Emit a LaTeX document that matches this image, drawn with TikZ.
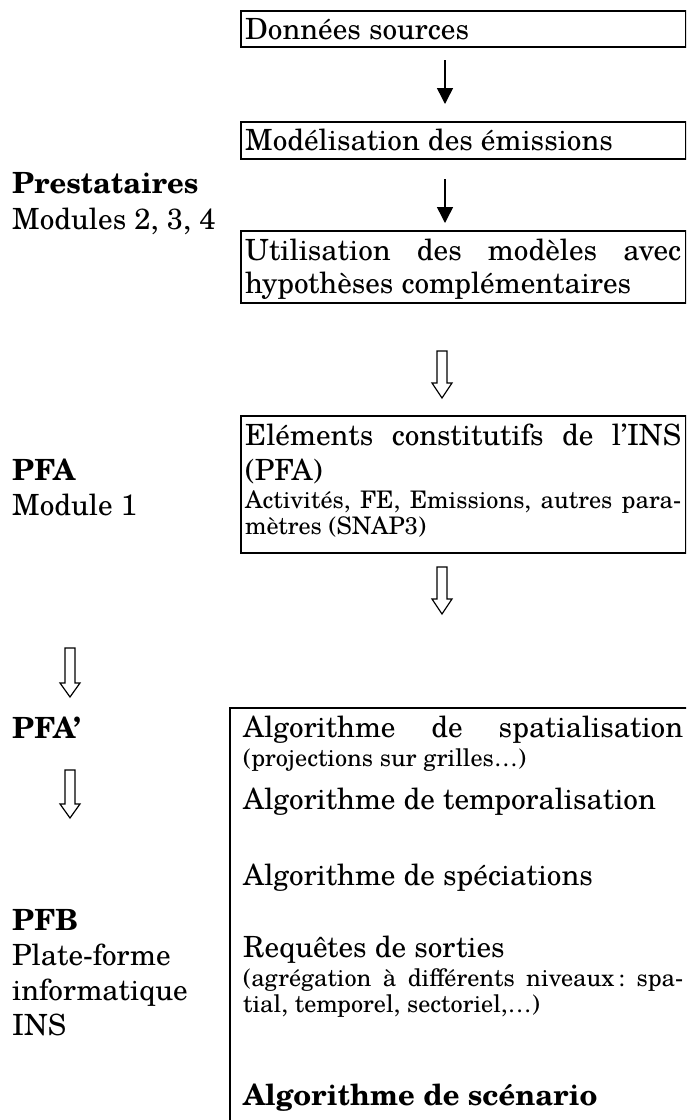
\documentclass[tikz,border=0pt]{standalone}
\usepackage{fontspec}
\setmainfont{TeX Gyre Schola}
\usetikzlibrary{arrows.meta}
\newcommand\hollowarr[4]{%
  \draw[hollow] (#1-5,#2) -- (#1+5,#2) -- (#1+5,#3-#4) -- (#1+10,#3-#4) -- (#1,#3) -- (#1-10,#3-#4) -- (#1-5,#3-#4) -- cycle;}
\begin{document}
\begin{tikzpicture}[x=1pt,y=-1pt,
  box/.style={draw, line width=2pt, inner sep=0pt, anchor=north west},
  txt/.style={inner sep=0pt, anchor=base west, font=\fontsize{29.2}{34}\selectfont},
  btxt/.style={inner sep=0pt, anchor=base west, font=\fontsize{29.2}{34}\selectfont\bfseries},
  smtxt/.style={inner sep=0pt, anchor=base west, font=\fontsize{24.2}{28}\selectfont},
  arr/.style={line width=1.5pt, -{Triangle[width=16pt,length=16pt]}},
  hollow/.style={line width=1.2pt, line join=miter}]
\useasboundingbox (0,0) rectangle (686,1120);
\clip (0,0) rectangle (686,1120);
% top boxes
\node[box, minimum width=445pt, minimum height=36pt] (b1) at (240,10) {};
\node[txt] (t1) at (245,39) {Données sources};
\node[box, minimum width=445pt, minimum height=37pt] (b2) at (240,121) {};
\node[txt] (t2) at (245,150) {Modélisation des émissions};
\node[box, minimum width=445pt, minimum height=72pt] (b3) at (240,230) {};
\node[txt] (t3a) at (245,260) {\hbox to 436pt{Utilisation\hfill des\hfill modèles\hfill avec}};
\node[txt] (t3b) at (245,293) {hypothèses complémentaires};
% solid arrows
\coordinate (a1s) at (445,60); \coordinate (a1e) at (445,104);
\draw[arr] (a1s) -- (a1e);
\coordinate (a2s) at (445,179); \coordinate (a2e) at (445,223);
\draw[arr] (a2s) -- (a2e);
% left labels
\node[btxt] (l1) at (12,193) {Prestataires};
\node[txt] (l2) at (12,229) {Modules 2, 3, 4};
\node[btxt] (l3) at (12,480) {PFA};
\node[txt] (l4) at (12,515) {Module 1};
% hollow arrows
\hollowarr{442}{351}{398}{15}
% box 4
\node[box, minimum width=445pt, minimum height=137pt] (b4) at (240,415) {};
\node[txt] (t4a) at (245,445) {\hbox to 436pt{Eléments\hfill constitutifs\hfill de\hfill l’INS}};
\node[txt] (t4b) at (245,480) {(PFA)};
\node[smtxt] (t4c) at (245,508) {\hbox to 436pt{Activités,\hfill FE,\hfill Emissions,\hfill autres\hfill para-}};
\node[smtxt] (t4d) at (245,534) {mètres (SNAP3)};
\hollowarr{442}{567}{614}{15}
% left arrows and labels
\hollowarr{70}{648}{697}{14}
\node[btxt] (l5) at (12,738) {PFA’};
\hollowarr{70}{770}{818}{14}
\node[btxt] (l6) at (12,930) {PFB};
\node[txt] (l7) at (12,965) {Plate-forme};
\node[txt] (l8) at (12,1000) {informatique};
\node[txt] (l9) at (12,1035) {INS};
% bottom box
\node[box, minimum width=480pt, minimum height=440pt] (b5) at (229,707) {};
\node[txt] (s1) at (243,737) {\hbox to 440pt{Algorithme\hfill de\hfill spatialisation}};
\node[smtxt] (s2) at (243,766) {(projections sur grilles…)};
\node[txt] (s3) at (243,809) {Algorithme de temporalisation};
\node[txt] (s4) at (243,885) {Algorithme de spéciations};
\node[txt] (s5) at (243,957) {Requêtes de sorties};
\node[smtxt] (s6) at (243,986) {\hbox to 440pt{(agrégation\hfill à\hfill différents\hfill niveaux\,:\hfill spa-}};
\node[smtxt] (s7) at (243,1012) {tial, temporel, sectoriel,…)};
\node[btxt] (s8) at (243,1105) {Algorithme de scénario};
\end{tikzpicture}
\end{document}
